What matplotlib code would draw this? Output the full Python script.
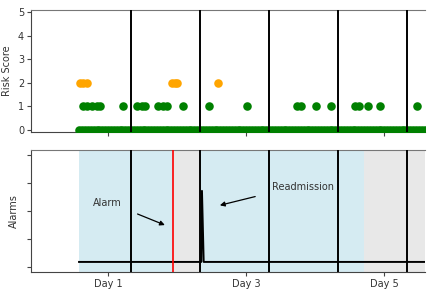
import matplotlib
matplotlib.use("Agg")
import matplotlib.pyplot as plt

plt.rcParams['font.family'] = 'DejaVu Sans'
plt.rcParams['font.size'] = 7

# risk score samples, zero scores logged hourly (hours), others in days
zero_hours = [14, 15, 16, 17, 18, 19, 20, 21, 22, 23, 24, 25, 26, 27, 28, 29, 30, 31,
              32, 33, 34, 35, 36, 37, 38, 39, 40, 41, 42, 43, 44, 45, 46, 47, 48, 49,
              50, 51, 52, 53, 54, 55, 56, 57, 58, 59, 60, 61, 62, 63, 64, 65, 66, 67,
              68, 69, 70, 71, 72, 73, 74, 75, 76, 77, 78, 79, 80, 81, 82, 83, 84, 85,
              86, 87, 88, 89, 90, 91, 92, 93, 94, 95, 96, 97, 98, 99, 100, 101, 102,
              103, 104, 105, 106, 107, 108, 109, 110, 111, 112, 113, 114, 115, 116,
              117, 118, 119, 120, 121, 122, 123, 124, 125, 126, 127, 128, 129, 130,
              131, 132, 133, 134]
score1_days = [0.64, 0.70, 0.77, 0.84, 0.88, 1.22, 1.42, 1.49, 1.54, 1.72, 1.80, 1.86,
               2.09, 2.46, 3.01, 3.74, 3.80, 4.01, 4.23, 4.57, 4.64, 4.77, 4.94, 5.48]
score2_days = [0.59, 0.64, 0.70, 1.93, 1.97, 2.00, 2.59]

midnight_lines = [1.33, 2.33, 3.33, 4.33, 5.33]
alarm_time = 1.94

# shaded periods (start, end)
stay_periods = [(0.58, 1.94), (2.33, 4.70)]
out_periods = [(1.94, 2.33), (4.70, 5.60)]

# alarm trace
alarm_t = [0.58, 2.35, 2.36, 2.385, 5.60]
alarm_v = [0.18, 0.18, 2.72, 0.18, 0.18]

day_ticks = [1, 3, 5]
day_labels = ["Day 1", "Day 3", "Day 5"]

xmin, xmax = -0.116, 5.59

fig = plt.figure(figsize=(4.39, 2.99), dpi=100)
ax1 = fig.add_axes([0.0706, 0.560, 0.8975, 0.4066])
ax2 = fig.add_axes([0.0706, 0.0903, 0.8975, 0.4080])

zero_days = [h / 24 for h in zero_hours]
ax1.scatter(zero_days, [0] * len(zero_days), s=38, color='green', zorder=3, linewidths=0)
ax1.scatter(score1_days, [1] * len(score1_days), s=38, color='green', zorder=3, linewidths=0)
ax1.scatter(score2_days, [2] * len(score2_days), s=38, color='orange', zorder=3, linewidths=0)
for d in midnight_lines:
    ax1.axvline(d, color='black', lw=1.4, zorder=4)
ax1.set_xlim(xmin, xmax)
ax1.set_ylim(-0.06, 5.08)
ax1.set_yticks([0, 1, 2, 3, 4, 5])
ax1.set_xticks(day_ticks)
ax1.set_xticklabels([])
ax1.set_ylabel("Risk Score", color='#333333')

for a, b in stay_periods:
    ax2.axvspan(a, b, color='lightblue', alpha=0.5, lw=0)
for a, b in out_periods:
    ax2.axvspan(a, b, color='lightgray', alpha=0.5, lw=0)
ax2.plot(alarm_t, alarm_v, color='black', lw=1.4, zorder=3)
for d in midnight_lines:
    ax2.axvline(d, color='black', lw=1.4, zorder=4)
ax2.axvline(alarm_time, color='red', lw=1.2, zorder=4)
ax2.set_xlim(xmin, xmax)
ax2.set_ylim(-0.18, 4.18)
ax2.set_yticks([0, 1, 2, 3, 4])
ax2.set_yticklabels([])
ax2.set_xticks(day_ticks)
ax2.set_xticklabels(day_labels, color='#333333')
ax2.set_ylabel("Alarms", color='#333333')

ax2.text(0.99, 2.29, "Alarm", ha='center', va='center', color='#333333')
ax2.annotate("", xy=(1.86, 1.46), xytext=(1.39, 1.93),
             arrowprops=dict(arrowstyle='-|>', color='black', lw=0.9, mutation_scale=7))
ax2.text(3.83, 2.86, "Readmission", ha='center', va='center', color='#333333')
ax2.annotate("", xy=(2.58, 2.18), xytext=(3.17, 2.54),
             arrowprops=dict(arrowstyle='-|>', color='black', lw=0.9, mutation_scale=7))

for ax in (ax1, ax2):
    ax.spines['right'].set_visible(False)
    ax.spines['top'].set_color('#777777')
    ax.spines['left'].set_color('#444444')
    ax.spines['bottom'].set_color('#444444')
    ax.tick_params(length=3, width=0.8, colors='#444444', labelcolor='#333333', pad=2)

fig.savefig("out.png", dpi=100)
